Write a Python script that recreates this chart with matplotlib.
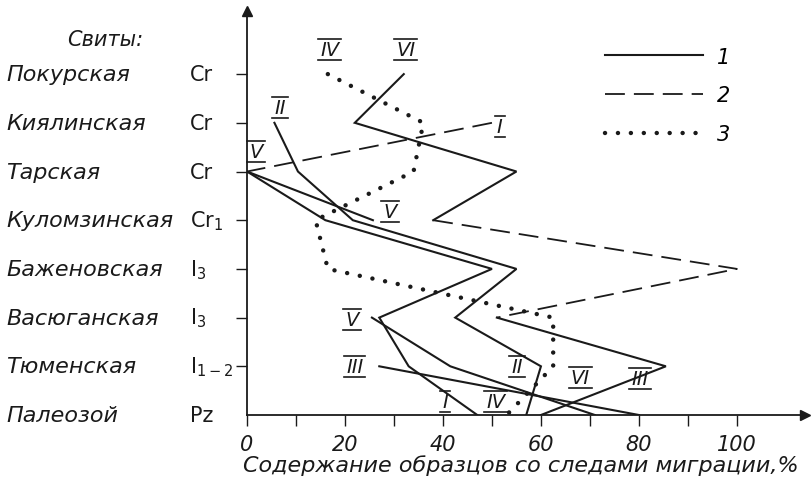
import numpy as np
import matplotlib
matplotlib.use("Agg")
import matplotlib.pyplot as plt
from matplotlib import transforms
from matplotlib.lines import Line2D
from matplotlib.transforms import IdentityTransform

nan = np.nan

# Suites, top to bottom
suites = ['Покурская', 'Киялинская', 'Тарская', 'Куломзинская',
          'Баженовская', 'Васюганская', 'Тюменская', 'Палеозой']
ages = ['Cr', 'Cr', 'Cr', 'Cr$_1$', 'I$_3$', 'I$_3$', 'I$_{1-2}$', 'Pz']

# % of samples with migration traces, one value per suite (nan = no data)
vi_top   = [32, 22, 55, 38, nan, nan, nan, nan]
vi_dash  = [nan, nan, nan, 38, 100, 51, nan, nan]
vi_low   = [nan, nan, nan, nan, nan, 51, 85.5, 60]
i_dash   = [nan, 50, 0, nan, nan, nan, nan, nan]
i_solid  = [nan, nan, 0, 16, 50, 27, 33, 47]
ii_solid = [nan, 5.6, 10.4, 21.6, 55, 42.5, 60, 57]
v_top    = [nan, nan, 0, 25.7, nan, nan, nan, nan]
v_low    = [nan, nan, nan, nan, nan, 25.5, 41.5, 71]
iii      = [nan, nan, nan, nan, nan, nan, 27, 80]
iv_dot   = [16.5, 36, 34, 14, 16.5, 62.5, 62.5, 53]

xticks = list(range(0, 101, 10))
xticklabels = ['0', '', '20', '', '40', '', '60', '', '80', '', '100']

# curve labels: (text, x, y)
curve_labels = [('IV', 16.9, 7.5), ('VI', 32.4, 7.5), ('II', 6.7, 6.32),
                ('I', 51.6, 5.93), ('V', 1.8, 5.42), ('V', 29.2, 4.17),
                ('V', 21.4, 1.97), ('III', 22.0, 0.99), ('I', 40.4, 0.27),
                ('IV', 50.8, 0.27), ('II', 55.1, 1.0), ('VI', 68.0, 0.78),
                ('III', 80.2, 0.74)]

y = np.arange(len(suites))[::-1]

plt.rcParams['mathtext.fontset'] = 'dejavusans'
fig = plt.figure(figsize=(8.12, 4.85), dpi=100)
ax = fig.add_axes([247 / 812, 69 / 485, 558 / 812, 404 / 485])
ax.set_xlim(0, 113.9)
ax.set_ylim(0, 8.296)

ink = '#1a1a1a'
solid = dict(color=ink, lw=1.5, solid_joinstyle='miter')
dashed = dict(color=ink, lw=1.3, linestyle=(0, (11, 5)))
dotted = dict(color=ink, lw=3.2, linestyle=(0, (0.01, 2.9)),
              dash_capstyle='round')

for s in (vi_top, vi_low, i_solid, ii_solid, v_top, v_low, iii):
    ax.plot(s, y, **solid)
for s in (vi_dash, i_dash):
    ax.plot(s, y, **dashed)
ax.plot(iv_dot, y, **dotted)

# axes with arrows
for sp in ('top', 'right'):
    ax.spines[sp].set_visible(False)
for sp in ('left', 'bottom'):
    ax.spines[sp].set_linewidth(1.3)
    ax.spines[sp].set_color(ink)
ax.plot(1, 0, '>', color=ink, ms=7, transform=ax.transAxes, clip_on=False)
ax.plot(0, 1, '^', color=ink, ms=7, transform=ax.transAxes, clip_on=False)

ax.set_xticks(xticks)
ax.set_xticklabels(xticklabels, fontsize=15, fontstyle='italic', color=ink)
ax.tick_params(axis='x', direction='out', length=8, width=1, pad=6, colors=ink)
ax.set_yticks(y[:-1])
ax.set_yticklabels([])
ax.tick_params(axis='y', direction='out', length=8, width=1, colors=ink)

# suite names and ages on the left
tr = transforms.blended_transform_factory(fig.transFigure, ax.transData)
for name, age, yy in zip(suites, ages, y):
    ax.text(6 / 812, yy, name, transform=tr, fontsize=16, fontstyle='italic',
            ha='left', va='center', color=ink)
    ax.text(190 / 812, yy, age, transform=tr, fontsize=15,
            ha='left', va='center', color=ink)
fig.text(105 / 812, 1 - 40 / 485, 'Свиты:', fontsize=15, fontstyle='italic',
         ha='center', va='center', color=ink)

fig.text(521 / 812, 1 - 466 / 485, 'Содержание образцов со следами миграции,%',
         fontsize=16, fontstyle='italic', ha='center', va='center', color=ink)

# legend
handles = [Line2D([], [], **solid), Line2D([], [], **dashed), Line2D([], [], **dotted)]
leg = fig.legend(handles, ['1', '2', '3'], loc='upper left',
                 bbox_to_anchor=(586 / 812, 1 - 29 / 485), frameon=False,
                 handlelength=4.7, handletextpad=0.7, labelspacing=0.9,
                 prop={'size': 15, 'style': 'italic'})

# roman numerals with bars above and below
texts = []
for lab, lx, ly in curve_labels:
    texts.append(ax.text(lx, ly, lab, fontsize=14, fontstyle='italic',
                         ha='center', va='center', color=ink))
fig.canvas.draw()
r = fig.canvas.get_renderer()
for t in texts:
    bb = t.get_window_extent(r)
    for yy in (bb.y1 + 1, bb.y0 - 1):
        fig.add_artist(Line2D([bb.x0 - 2, bb.x1 + 2], [yy, yy], lw=1.2,
                              color=ink, transform=IdentityTransform()))

fig.savefig('out.png', dpi=100)
